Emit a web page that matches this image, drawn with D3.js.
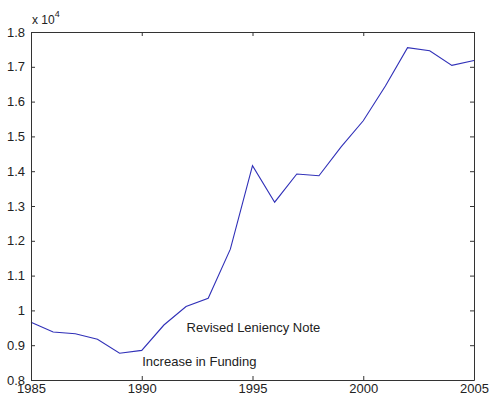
<!DOCTYPE html>
<html>
<head>
<meta charset="utf-8">
<script src="https://cdn.jsdelivr.net/npm/d3@7"></script>
<style>
  html, body { margin: 0; padding: 0; background: #fff; }
  svg { display: block; }
  text { font-family: Arial, "Liberation Sans", Helvetica, sans-serif; fill: #222; }
</style>
</head>
<body>
<svg id="chart" width="490" height="398"></svg>
<script>
// Yearly totals
const years = [1985, 1986, 1987, 1988, 1989, 1990, 1991, 1992, 1993, 1994, 1995,
               1996, 1997, 1998, 1999, 2000, 2001, 2002, 2003, 2004, 2005];
const totals = [9660, 9380, 9330, 9170, 8770, 8850, 9580, 10110, 10350, 11760, 14160,
                13110, 13920, 13870, 14700, 15450, 16450, 17550, 17460, 17040, 17180];

const xTicks = [1985, 1990, 1995, 2000, 2005];
const yTicks = [8000, 9000, 10000, 11000, 12000, 13000, 14000, 15000, 16000, 17000, 18000];
const yTickLabels = ["0.8", "0.9", "1", "1.1", "1.2", "1.3", "1.4", "1.5", "1.6", "1.7", "1.8"];

const annotations = [
  { year: 1992, value: 9390, text: "Revised Leniency Note" },
  { year: 1990, value: 8400, text: "Increase in Funding" }
];

const margin = { left: 31, top: 32, right: 16, bottom: 18 };
const W = 490, H = 398;
const svg = d3.select("#chart");

const x = d3.scaleLinear().domain([1985, 2005]).range([margin.left, W - margin.right]);
const y = d3.scaleLinear().domain([8000, 18000]).range([H - margin.bottom, margin.top]);

const axisColor = "#333";
const fontSize = "13px";
const tickLen = 4;

const g = svg.append("g");

// Line
const line = d3.line().x((d, i) => x(years[i])).y(d => y(d));
g.append("path")
  .datum(totals)
  .attr("fill", "none")
  .attr("stroke", "#3030b8")
  .attr("stroke-width", 1.1)
  .attr("d", line);

// Annotations
g.selectAll("text.note")
  .data(annotations)
  .join("text")
  .attr("class", "note")
  .attr("x", d => x(d.year) + 0.5)
  .attr("y", d => y(d.value))
  .style("font-size", fontSize)
  .text(d => d.text);

// Axes (inward ticks, boxed)
const bottomAxis = d3.axisBottom(x).tickValues(xTicks).tickFormat(d3.format("d"))
  .tickSizeInner(-tickLen).tickSizeOuter(0).tickPadding(4);
const topAxis = d3.axisTop(x).tickValues(xTicks).tickFormat("")
  .tickSizeInner(-tickLen).tickSizeOuter(0);
const leftAxis = d3.axisLeft(y).tickValues(yTicks).tickFormat((d, i) => yTickLabels[i])
  .tickSizeInner(-tickLen).tickSizeOuter(0).tickPadding(6);
const rightAxis = d3.axisRight(y).tickValues(yTicks).tickFormat("")
  .tickSizeInner(-tickLen).tickSizeOuter(0);

function style(sel) {
  sel.select(".domain").attr("stroke", axisColor);
  sel.selectAll(".tick line").attr("stroke", axisColor);
  sel.selectAll(".tick text").style("font-size", fontSize).attr("fill", "#222")
    .style("font-family", "Arial, 'Liberation Sans', sans-serif");
}

svg.append("g").attr("transform", `translate(0,${H - margin.bottom})`).call(bottomAxis).call(style);
svg.append("g").attr("transform", `translate(0,${margin.top})`).call(topAxis).call(style);
svg.append("g").attr("transform", `translate(${margin.left},0)`).call(leftAxis).call(style);
svg.append("g").attr("transform", `translate(${W - margin.right},0)`).call(rightAxis).call(style);

// Exponent label
const expo = svg.append("text")
  .attr("x", margin.left + 1)
  .attr("y", margin.top - 8)
  .style("font-size", "12px");
expo.append("tspan").text("x 10");
expo.append("tspan").attr("dy", -7).style("font-size", "9px").text("4");
</script>
</body>
</html>
